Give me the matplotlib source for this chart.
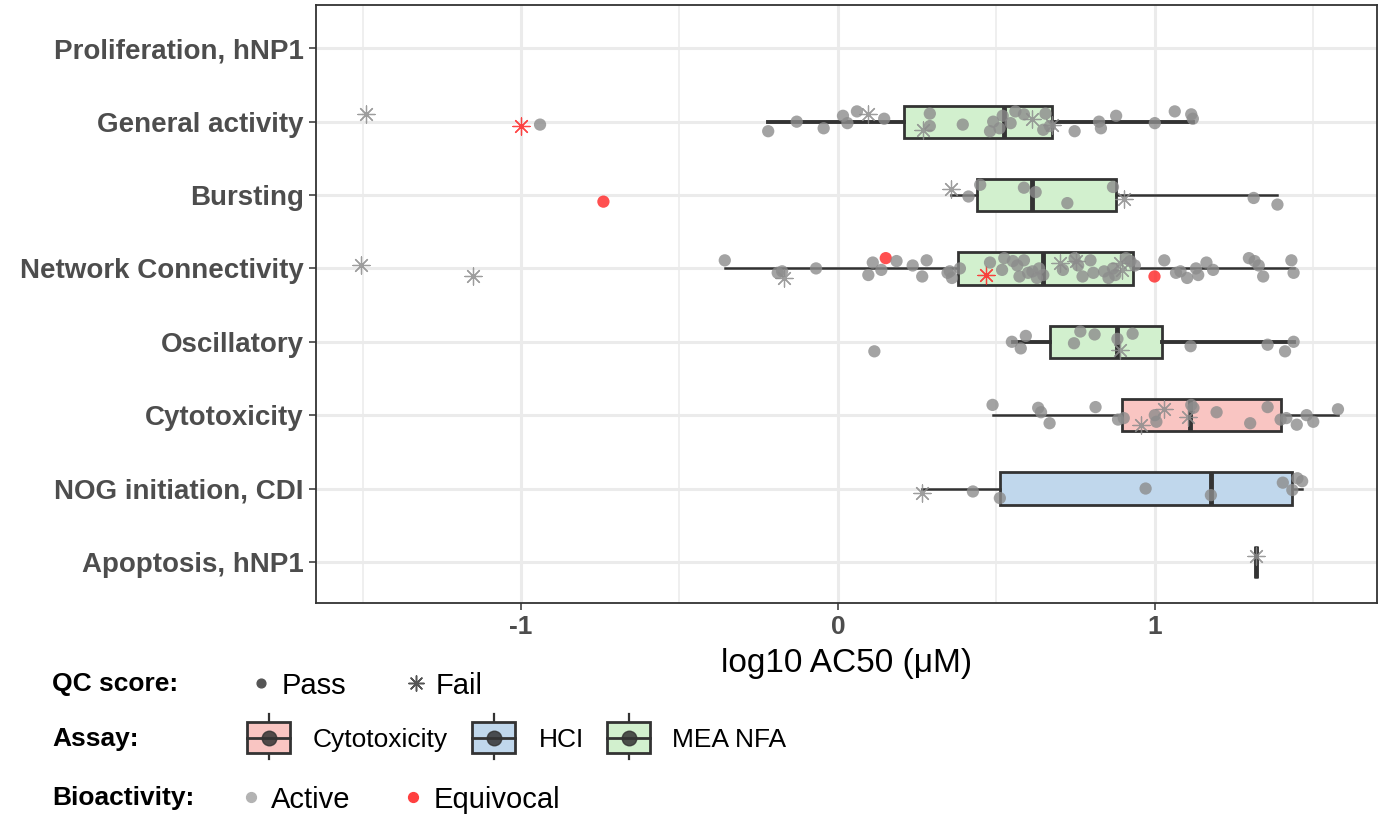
import matplotlib.pyplot as plt
from matplotlib.patches import Rectangle

plt.rcParams['font.family'] = ['Liberation Sans', 'DejaVu Sans']

# Rows, top to bottom
endpoints = ["Proliferation, hNP1", "General activity", "Bursting", "Network Connectivity",
             "Oscillatory", "Cytotoxicity", "NOG initiation, CDI", "Apoptosis, hNP1"]
assay = ["HCI", "MEA NFA", "MEA NFA", "MEA NFA", "MEA NFA", "Cytotoxicity", "HCI", "HCI"]

# Box stats: whisker low, q1, median, q3, whisker high (None = no data)
box_stats = [
    None,
    (-0.22, 0.209, 0.525, 0.677, 1.122),
    (0.357, 0.44, 0.611, 0.879, 1.387),
    (-0.357, 0.38, 0.648, 0.93, 1.438),
    (0.552, 0.669, 0.882, 1.023, 1.438),
    (0.488, 0.898, 1.111, 1.397, 1.578),
    (0.264, 0.511, 1.177, 1.434, 1.465),
    (1.32, 1.32, 1.32, 1.32, 1.32),
]

# Points per row: log10 AC50 and a code: P = pass, F = fail, e suffix = equivocal
general_x = [-1.49, -1.0, -0.94, -0.22, -0.13, -0.045, 0.016, 0.03, 0.06, 0.096, 0.146, 0.27,
             0.29, 0.29, 0.394, 0.48, 0.49, 0.51, 0.52, 0.545, 0.56, 0.587, 0.614, 0.648, 0.655,
             0.669, 0.676, 0.747, 0.824, 0.83, 0.878, 1.0, 1.063, 1.115, 1.12]
general_c = ["F", "Fe", "P", "P", "P", "P", "P", "P", "P", "F", "P", "F",
             "P", "P", "P", "P", "P", "P", "P", "P", "P", "P", "F", "P", "P",
             "P", "F", "P", "P", "P", "P", "P", "P", "P", "P"]

bursting_x = [-0.74, 0.357, 0.412, 0.449, 0.587, 0.624, 0.724, 0.868, 0.902, 1.312, 1.387]
bursting_c = ["Pe", "F", "P", "P", "P", "P", "P", "P", "F", "P", "P"]

network_x = [-1.505, -1.15, -0.357, -0.19, -0.176, -0.17, -0.069, 0.096, 0.11, 0.137, 0.151,
             0.185, 0.236, 0.266, 0.28, 0.346, 0.353, 0.36, 0.385, 0.467, 0.48, 0.518, 0.525,
             0.552, 0.566, 0.573, 0.587, 0.6, 0.614, 0.628, 0.635, 0.648, 0.70, 0.71, 0.747,
             0.75, 0.758, 0.772, 0.797, 0.806, 0.84, 0.854, 0.868, 0.875, 0.889, 0.896, 0.909,
             0.923, 0.937, 0.999, 1.03, 1.067, 1.081, 1.102, 1.13, 1.137, 1.163, 1.184, 1.297,
             1.315, 1.328, 1.342, 1.431, 1.438]
network_c = ["F", "F", "P", "P", "P", "F", "P", "P", "P", "P", "Pe",
             "P", "P", "P", "P", "P", "P", "P", "P", "Fe", "P", "P", "P",
             "P", "P", "P", "P", "P", "P", "P", "P", "P", "F", "P", "P",
             "F", "P", "P", "P", "P", "P", "P", "P", "P", "F", "F", "P",
             "P", "P", "Pe", "P", "P", "P", "P", "P", "P", "P", "P", "P",
             "P", "P", "P", "P", "P"]

oscill_x = [0.115, 0.549, 0.577, 0.593, 0.745, 0.765, 0.81, 0.882, 0.889, 0.93, 1.113, 1.356,
            1.411, 1.438]
oscill_c = ["P", "P", "P", "P", "P", "P", "P", "P", "F", "P", "P", "P", "P", "P"]

cyto_x = [0.488, 0.632, 0.641, 0.668, 0.813, 0.884, 0.902, 0.955, 1.0, 1.005, 1.03, 1.104,
          1.115, 1.122, 1.195, 1.301, 1.356, 1.397, 1.415, 1.448, 1.479, 1.5, 1.578]
cyto_c = ["P", "P", "P", "P", "P", "P", "P", "F", "P", "P", "F", "F",
          "P", "P", "P", "P", "P", "P", "P", "P", "P", "P", "P"]

nog_x = [0.264, 0.426, 0.511, 0.971, 1.177, 1.404, 1.434, 1.45, 1.465]
nog_c = ["F", "P", "P", "P", "P", "P", "P", "P", "P"]

apop_x = [1.32]
apop_c = ["F"]

points = [([], []), (general_x, general_c), (bursting_x, bursting_c), (network_x, network_c),
          (oscill_x, oscill_c), (cyto_x, cyto_c), (nog_x, nog_c), (apop_x, apop_c)]

fills = {"Cytotoxicity": "#F9C5C2", "HCI": "#C0D7EC", "MEA NFA": "#D2F0CE"}
grey = "#8C8C8C"
red = "#FF2424"
# fixed vertical jitter pattern (not data)
jit = [0.02, -0.11, 0.09, -0.04, 0.13, -0.14, 0.06, -0.08, 0.11, 0.0, -0.10, 0.04]
# thicker whiskers on the rows drawn that way in the original
whisk_lw = [1.8, 2.8, 1.8, 1.8, 2.8, 1.8, 1.8, 1.8]

fig = plt.figure(figsize=(13.78, 8.17), dpi=100)
ax = fig.add_axes([316 / 1378, 1 - 603 / 817, 1 - 316 / 1378 - 0.001, (603 - 5) / 817])

for i, st in enumerate(box_stats):
    if st is None:
        continue
    lo, q1, med, q3, hi = st
    ax.bxp([dict(whislo=lo, q1=q1, med=med, q3=q3, whishi=hi, fliers=[])],
           positions=[i], widths=0.44, orientation='horizontal', showcaps=False,
           patch_artist=True, manage_ticks=False,
           boxprops=dict(facecolor=fills[assay[i]], edgecolor="#333333", linewidth=2),
           medianprops=dict(color="#333333", linewidth=3.5),
           whiskerprops=dict(color="#333333", linewidth=whisk_lw[i]), zorder=2)

for i, (xs, cs) in enumerate(points):
    for k, (x, c) in enumerate(zip(xs, cs)):
        y = i + jit[(k * 5 + i) % len(jit)]
        col = red if c.endswith("e") else grey
        if c.startswith("P"):
            ax.scatter(x, y, s=78, color=col, alpha=0.8, edgecolors="none", zorder=3)
        else:
            ax.scatter(x, y, s=150, marker=(8, 2, 0), color=col, alpha=0.85,
                       linewidths=0.9, zorder=3)

ax.set_xlim(-1.647, 1.70)
ax.set_ylim(len(endpoints) - 1 + 0.56, -0.59)
ax.set_yticks(range(len(endpoints)))
ax.set_yticklabels(endpoints, fontsize=20, fontweight="bold", color="#4D4D4D")
ax.set_xticks([-1, 0, 1])
ax.set_xticklabels(["-1", "0", "1"], fontsize=19, fontweight="bold", color="#4D4D4D")
ax.set_xticks([-1.5, -0.5, 0.5, 1.5], minor=True)
ax.tick_params(axis="both", which="major", length=5, width=1.1, color="#333333", pad=4)
ax.tick_params(axis="x", which="minor", length=0)
ax.grid(True, which="major", color="#EBEBEB", linewidth=2.2)
ax.grid(True, which="minor", axis="x", color="#EBEBEB", linewidth=1.1)
ax.set_axisbelow(True)
for s in ax.spines.values():
    s.set_color("#333333")
    s.set_linewidth(1.3)
ax.set_xlabel("log10 AC50 (\u03bcM)", fontsize=24, labelpad=6)

# legends at the bottom, drawn in pixel coordinates
lg = fig.add_axes([0, 0, 1, 1], facecolor="none")
lg.set_xlim(0, 1378)
lg.set_ylim(817, 0)
lg.axis("off")

title_font = dict(family=["Liberation Sans Narrow", "Liberation Sans"], fontweight="bold",
                  fontsize=19, va="center", ha="left")
lg.text(52, 684, "QC score:", **title_font)
lg.text(52, 739, "Assay:", **title_font)
lg.text(52, 798, "Bioactivity:", **title_font)

lg.scatter(261, 683, s=40, color="#555555", zorder=3)
lg.text(282, 686, "Pass", fontsize=21, va="center")
lg.scatter(416, 683, s=120, marker=(8, 2, 0), color="#555555", linewidths=1.1)
lg.text(436, 686, "Fail", fontsize=21, va="center")

for x0, name, tx in [(247, "Cytotoxicity", 313), (472, "HCI", 539), (607, "MEA NFA", 672)]:
    lg.plot([x0 + 21.5, x0 + 21.5], [714, 759], color="#333333", lw=1.6, zorder=1)
    lg.add_patch(Rectangle((x0, 722), 43, 31, facecolor=fills[name], edgecolor="#333333",
                           lw=2, zorder=2))
    lg.plot([x0, x0 + 43], [737.5, 737.5], color="#333333", lw=2, zorder=3)
    lg.scatter(x0 + 21.5, 737.5, s=110, color="#333333", alpha=0.85, zorder=4)
    lg.text(tx, 740, name, fontsize=19, va="center")

lg.scatter(251, 797, s=50, color="#B3B3B3")
lg.text(271, 800, "Active", fontsize=21, va="center")
lg.scatter(413, 797, s=50, color="#FF4040")
lg.text(434, 800, "Equivocal", fontsize=21, va="center")

fig.savefig("out.png", dpi=100)
